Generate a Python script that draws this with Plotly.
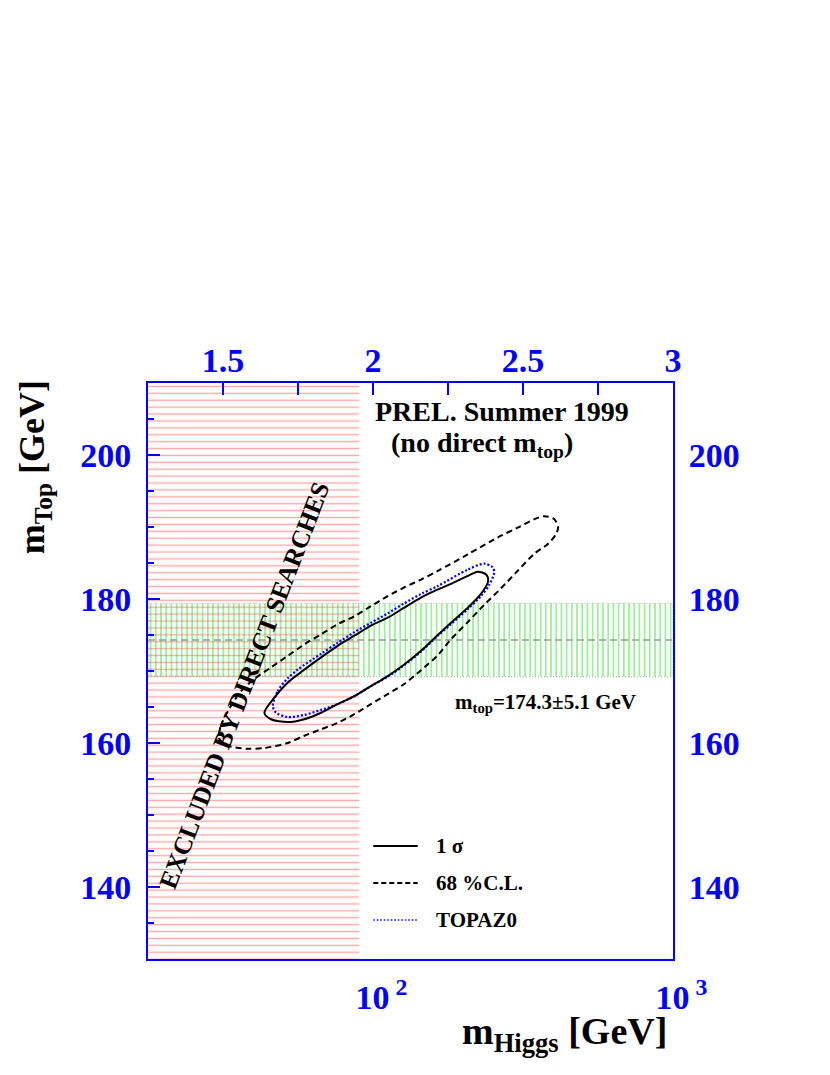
import math
import plotly.graph_objects as go

# contours in (log10 m_Higgs, m_top [GeV])
sigma1_logmh = [1.638, 1.671, 1.716, 1.749, 1.827, 1.882, 1.938, 1.993, 2.049, 2.104,
                2.160, 2.204, 2.260, 2.316, 2.349, 2.377, 2.384, 2.360, 2.316, 2.260,
                2.216, 2.160, 2.104, 2.049, 1.993, 1.938, 1.882, 1.827, 1.771, 1.716,
                1.660, 1.638]
sigma1_mtop = [164.2, 166.3, 168.4, 169.5, 171.9, 173.5, 174.9, 176.3, 177.4, 178.8,
               180.2, 181.1, 182.1, 183.2, 183.8, 183.4, 182.5, 180.7, 178.8, 176.7,
               175.0, 172.8, 170.9, 169.3, 167.9, 166.5, 165.4, 164.2, 163.3, 162.9,
               163.3, 164.2]

cl68_logmh = [1.487, 1.493, 1.520, 1.560, 1.604, 1.660, 1.716, 1.771, 1.827, 1.882,
              1.938, 1.993, 2.049, 2.104, 2.160, 2.216, 2.316, 2.427, 2.482, 2.538,
              2.571, 2.604, 2.617, 2.610, 2.582, 2.538, 2.482, 2.427, 2.371, 2.316,
              2.260, 2.216, 2.160, 2.104, 2.049, 1.993, 1.938, 1.882, 1.827, 1.771,
              1.716, 1.638, 1.582, 1.520, 1.487]
cl68_mtop = [160.6, 162.4, 164.7, 167.2, 168.9, 170.5, 172.1, 173.7, 175.1, 176.5,
             177.6, 179.0, 180.4, 181.6, 182.7, 183.9, 186.2, 188.8, 189.9, 191.1,
             191.5, 191.1, 190.0, 189.0, 187.6, 186.3, 183.9, 181.5, 179.2, 176.8,
             174.4, 172.2, 170.1, 168.2, 166.8, 165.4, 164.0, 162.8, 161.9, 161.0,
             160.0, 159.3, 159.2, 159.6, 160.6]

topaz_logmh = [1.666, 1.682, 1.716, 1.749, 1.827, 1.882, 1.938, 1.993, 2.049, 2.104,
               2.160, 2.216, 2.316, 2.371, 2.399, 2.404, 2.388, 2.360, 2.316, 2.260,
               2.216, 2.160, 2.104, 2.049, 1.993, 1.938, 1.882, 1.827, 1.771, 1.716,
               1.677, 1.666]
topaz_mtop = [165.1, 167.2, 169.0, 170.2, 172.4, 173.9, 175.4, 176.7, 178.0, 179.4,
              180.7, 181.8, 184.1, 184.9, 184.4, 183.7, 182.0, 180.4, 178.6, 176.5,
              174.9, 172.7, 170.8, 169.2, 167.9, 166.5, 165.4, 164.6, 163.9, 163.6,
              164.2, 165.1]

# fit results (m_Higgs in GeV)
fit_mh = [92.9, 100.9]
fit_mt = [171.6, 172.9]

# direct top mass and excluded Higgs region
mtop_direct = 174.3
mtop_err = 5.1
mh_excluded = 90.0

x_lo, x_hi = 1.25, 3.0
y_lo, y_hi = 130, 210

BLUE = '#0000ff'
FONT = 'Liberation Serif'

fig = go.Figure()

# excluded region, red horizontal hatching
lx = math.log10(mh_excluded)
fig.add_trace(go.Scatter(
    x=[x_lo, lx, lx, x_lo, x_lo], y=[y_lo, y_lo, y_hi, y_hi, y_lo],
    xaxis='x2', yaxis='y', mode='lines', fill='toself',
    line=dict(width=0), fillcolor='rgba(0,0,0,0)',
    fillpattern=dict(shape='-', size=6.9, solidity=0.2, fgcolor='#ff4f4f'),
    hoverinfo='skip', showlegend=False))

# direct m_top band, green vertical hatching
b_lo, b_hi = mtop_direct - mtop_err, mtop_direct + mtop_err
fig.add_trace(go.Scatter(
    x=[x_lo, x_hi, x_hi, x_lo, x_lo], y=[b_lo, b_lo, b_hi, b_hi, b_lo],
    xaxis='x2', yaxis='y', mode='lines', fill='toself',
    line=dict(width=1, color='#aaaaaa', dash='1px,2px'), fillcolor='rgba(0,0,0,0)',
    fillpattern=dict(shape='|', size=5.2, solidity=0.3, fgcolor='#22dd22'),
    hoverinfo='skip', showlegend=False))

fig.add_trace(go.Scatter(
    x=[x_lo, x_hi], y=[mtop_direct, mtop_direct], xaxis='x2', yaxis='y',
    mode='lines', line=dict(color='#999999', width=1.5, dash='7px,4px'),
    hoverinfo='skip', showlegend=False))

# contours
fig.add_trace(go.Scatter(
    x=cl68_logmh, y=cl68_mtop, xaxis='x2', yaxis='y', mode='lines',
    line=dict(color='black', width=2, dash='6px,4px', shape='spline', smoothing=0.8),
    showlegend=False))
fig.add_trace(go.Scatter(
    x=topaz_logmh, y=topaz_mtop, xaxis='x2', yaxis='y', mode='lines',
    line=dict(color=BLUE, width=2.2, dash='2px,2px', shape='spline', smoothing=0.8),
    showlegend=False))
fig.add_trace(go.Scatter(
    x=sigma1_logmh, y=sigma1_mtop, xaxis='x2', yaxis='y', mode='lines',
    line=dict(color='black', width=2, shape='spline', smoothing=0.8),
    showlegend=False))

fig.add_trace(go.Scatter(
    x=fit_mh, y=fit_mt, xaxis='x', yaxis='y2', mode='markers',
    marker=dict(symbol='cross-thin', size=8, line=dict(color='black', width=2)),
    showlegend=False))

tickfont = dict(family=FONT, size=34, color=BLUE, weight='bold')
common = dict(showline=True, linecolor=BLUE, linewidth=2, ticks='inside',
              tickcolor=BLUE, tickwidth=2, showgrid=False, zeroline=False,
              tickfont=tickfont, automargin=False)

fig.update_layout(
    width=830, height=1075,
    margin=dict(l=140, r=165, t=375, b=124),
    paper_bgcolor='white', plot_bgcolor='white',
    font=dict(family=FONT, color='black'),
    xaxis=dict(type='log', range=[x_lo, x_hi], tickvals=[100, 1000],
               ticktext=['&nbsp;&nbsp;10<sup> 2</sup>', '&nbsp;&nbsp;10<sup> 3</sup>'],
               ticklen=12, ticklabelstandoff=7,
               minor=dict(ticks='inside', ticklen=6, tickcolor=BLUE, tickwidth=2,
                          tickvals=[20, 30, 40, 50, 60, 70, 80, 90,
                                    200, 300, 400, 500, 600, 700, 800, 900]),
               **common),
    xaxis2=dict(overlaying='x', side='top', anchor='y', range=[x_lo, x_hi],
                tickvals=[1.5, 2, 2.5, 3], ticklen=12, ticklabelstandoff=-5,
                minor=dict(ticks='inside', ticklen=12, tickcolor=BLUE, tickwidth=2,
                           dtick=0.25, tick0=0),
                **common),
    yaxis=dict(range=[y_lo, y_hi], tickvals=[140, 160, 180, 200], ticklen=12,
               ticklabelstandoff=8,
               minor=dict(ticks='inside', ticklen=6, tickcolor=BLUE, tickwidth=2,
                          dtick=5, tick0=0),
               **common),
    yaxis2=dict(overlaying='y', side='right', anchor='x', range=[y_lo, y_hi],
                tickvals=[140, 160, 180, 200], ticklen=12, ticklabelstandoff=7,
                minor=dict(ticks='inside', ticklen=6, tickcolor=BLUE, tickwidth=2,
                           dtick=5, tick0=0),
                **common),
)

bold = lambda s: dict(family=FONT, size=s, color='black', weight='bold')

fig.add_annotation(text='m<sub>Top</sub> [GeV]', xref='paper', yref='paper',
                   x=-0.217, y=0.854, xanchor='center', yanchor='middle',
                   textangle=-90, showarrow=False, font=bold(36))
fig.add_annotation(text='m<sub>Higgs</sub> [GeV]', xref='paper', yref='paper',
                   x=0.992, y=-0.085, xanchor='right', yanchor='top',
                   showarrow=False, font=bold(38))
fig.add_annotation(text='PREL. Summer 1999', xref='paper', yref='paper',
                   x=0.4286, y=0.951, xanchor='left', yanchor='middle',
                   showarrow=False, font=bold(28))
fig.add_annotation(text='(no direct m<sub>top</sub>)', xref='paper', yref='paper',
                   x=0.459, y=0.893, xanchor='left', yanchor='middle',
                   showarrow=False, font=bold(28))
fig.add_annotation(text='m<sub>top</sub>=174.3±5.1 GeV', xref='paper', yref='paper',
                   x=0.581, y=0.444, xanchor='left', yanchor='middle',
                   showarrow=False, font=bold(21))
fig.add_annotation(text='EXCLUDED BY DIRECT SEARCHES', xref='x2', yref='y',
                   x=1.571, y=168.0, xanchor='center', yanchor='middle',
                   textangle=-69, showarrow=False, font=bold(25.5))

# legend
legend_items = [('1 σ', dict(color='black', width=2), 0.1962),
                ('68 %C.L.', dict(color='black', width=2, dash='5px,3px'), 0.1319),
                ('TOPAZ0', dict(color=BLUE, width=1.5, dash='1.5px,2px'), 0.0677)]
for label, ln, yy in legend_items:
    fig.add_shape(type='line', xref='paper', yref='paper',
                  x0=0.4291, x1=0.5137, y0=yy, y1=yy, line=ln)
    fig.add_annotation(text=label, xref='paper', yref='paper', x=0.544, y=yy,
                       xanchor='left', yanchor='middle', showarrow=False,
                       font=bold(21))

fig.write_html("out.html")
